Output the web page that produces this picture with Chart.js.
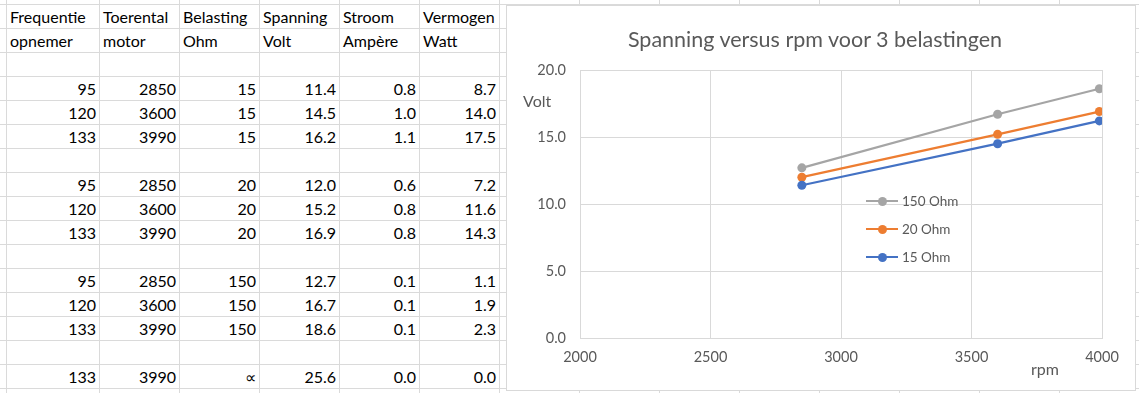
<!DOCTYPE html>
<html lang="nl">
<head>
<meta charset="utf-8">
<title>Spanning versus rpm</title>
<script src="https://cdn.jsdelivr.net/npm/chart.js@4.4.1/dist/chart.umd.min.js"></script>
<style>
  html, body { margin: 0; padding: 0; background: #fff; }
  body { width: 1139px; height: 393px; overflow: hidden; position: relative; font-family: Lato, "Liberation Sans", sans-serif; }
  .vline { position: absolute; top: 0; width: 1px; height: 393px; background: #dadada; }
  .hline { position: absolute; left: 0; width: 1139px; height: 1px; background: #dadada; }
  .cel { position: absolute; height: 24px; line-height: 26px; font-size: 16px; color: #000; white-space: nowrap; }
  .cel.num { text-align: right; }
  #kader { position: absolute; left: 506px; top: 5px; width: 628px; height: 384px; border: 1px solid #d9d9d9; background: #fff; }
  #grafiek { position: absolute; left: 0; top: 0; }
  .label { position: absolute; color: #595959; white-space: nowrap; }
  #titel { left: 0; width: 616px; top: 20px; text-align: center; font-size: 21.5px; }
  #as-y { left: 16px; top: 85px; font-size: 16px; }
  #as-x { left: 524px; top: 353px; font-size: 16px; }
  #legenda { position: absolute; left: 359px; top: 181px; }
  .leg-item { position: relative; height: 28px; line-height: 28px; font-size: 13.5px; color: #595959; padding-left: 36px; }
  .leg-lijn { position: absolute; left: 0; top: 13px; width: 32px; height: 2px; }
  .leg-punt { position: absolute; left: 12px; top: 10px; width: 9px; height: 9px; border-radius: 50%; }
</style>
</head>
<body>

<div id="sheet"></div>

<div id="kader">
  <canvas id="grafiek" width="628" height="384"></canvas>
  <div class="label" id="titel">Spanning versus rpm voor 3 belastingen</div>
  <div class="label" id="as-y">Volt</div>
  <div class="label" id="as-x">rpm</div>
  <div id="legenda"></div>
</div>

<script>
// Meetgegevens
const kopRegel1 = ['Frequentie', 'Toerental', 'Belasting', 'Spanning', 'Stroom', 'Vermogen'];
const kopRegel2 = ['opnemer', 'motor', 'Ohm', 'Volt', 'Ampère', 'Watt'];

const frequentie = [95, 120, 133];
const toerental = [2850, 3600, 3990];
const belastingen = [15, 20, 150];

const spanning15 = [11.4, 14.5, 16.2];
const spanning20 = [12.0, 15.2, 16.9];
const spanning150 = [12.7, 16.7, 18.6];

const stroom15 = [0.8, 1.0, 1.1];
const stroom20 = [0.6, 0.8, 0.8];
const stroom150 = [0.1, 0.1, 0.1];

const vermogen15 = [8.7, 14.0, 17.5];
const vermogen20 = [7.2, 11.6, 14.3];
const vermogen150 = [1.1, 1.9, 2.3];

// onbelast (open klemmen)
const openRegel = [133, 3990, '∝', 25.6, 0.0, 0.0];

// As-instellingen
const rpmTicks = [2000, 2500, 3000, 3500, 4000];
const voltTicks = [0, 5, 10, 15, 20];

const kleuren = ['#4472c4', '#ed7d31', '#a5a5a5'];

// ---------------------------------------------------------
// Werkblad (rasterlijnen + tabel)
// ---------------------------------------------------------
const sheet = document.getElementById('sheet');
const kolX = [6, 99, 179, 259, 339, 419, 499, 579, 659, 739, 819, 899, 979, 1059, 1139];
const rijY = [];
for (let k = 0; k <= 16; k++) rijY.push(4 + 24 * k);

kolX.forEach(x => {
    const d = document.createElement('div');
    d.className = 'vline';
    d.style.left = x + 'px';
    sheet.appendChild(d);
});
rijY.forEach(y => {
    const d = document.createElement('div');
    d.className = 'hline';
    d.style.top = y + 'px';
    sheet.appendChild(d);
});

function zetCel(rij, kol, tekst, rechts) {
    const d = document.createElement('div');
    d.className = 'cel' + (rechts ? ' num' : '');
    d.textContent = tekst;
    d.style.top = rijY[rij] + 'px';
    if (rechts) {
        d.style.left = kolX[kol] + 'px';
        d.style.width = (kolX[kol + 1] - kolX[kol] - 3) + 'px';
    } else {
        d.style.left = (kolX[kol] + 4) + 'px';
    }
    sheet.appendChild(d);
}

kopRegel1.forEach((t, k) => zetCel(0, k, t, false));
kopRegel2.forEach((t, k) => zetCel(1, k, t, false));

const spanningen = [spanning15, spanning20, spanning150];
const stromen = [stroom15, stroom20, stroom150];
const vermogens = [vermogen15, vermogen20, vermogen150];

belastingen.forEach((ohm, g) => {
    for (let i = 0; i < 3; i++) {
        const rij = 3 + 4 * g + i;
        const waarden = [
            frequentie[i],
            toerental[i],
            ohm,
            spanningen[g][i].toFixed(1),
            stromen[g][i].toFixed(1),
            vermogens[g][i].toFixed(1)
        ];
        waarden.forEach((w, k) => zetCel(rij, k, w, true));
    }
});

openRegel.forEach((w, k) => {
    const tekst = typeof w === 'number' && k >= 3 ? w.toFixed(1) : w;
    zetCel(15, k, tekst, true);
});

// ---------------------------------------------------------
// Grafiek
// ---------------------------------------------------------
const datasets = belastingen.map((ohm, g) => ({
    label: ohm + ' Ohm',
    data: toerental.map((rpm, i) => ({ x: rpm, y: spanningen[g][i] })),
    borderColor: kleuren[g],
    backgroundColor: kleuren[g],
    borderWidth: 2.25,
    pointRadius: 4.5,
    pointBorderWidth: 0,
    showLine: true,
    tension: 0
}));

const tekstKleur = '#595959';
const rasterKleur = '#d9d9d9';
const fontFam = 'Lato, "Liberation Sans", sans-serif';

const ctx = document.getElementById('grafiek').getContext('2d');
const grafiek = new Chart(ctx, {
    type: 'scatter',
    data: { datasets: datasets },
    options: {
        responsive: false,
        animation: false,
        layout: { padding: { top: 64, right: 33, left: 0, bottom: 0 } },
        plugins: {
            legend: { display: false },
            title: { display: false },
            tooltip: { enabled: false }
        },
        scales: {
            x: {
                type: 'linear',
                min: rpmTicks[0],
                max: rpmTicks[rpmTicks.length - 1],
                afterBuildTicks: axis => { axis.ticks = rpmTicks.map(v => ({ value: v })); },
                afterFit: axis => { axis.height = 52; },
                grid: { color: rasterKleur, drawTicks: false },
                border: { color: rasterKleur },
                ticks: {
                    color: tekstKleur,
                    font: { family: fontFam, size: 14.5 },
                    padding: 11,
                    maxRotation: 0,
                    callback: v => String(v)
                }
            },
            y: {
                type: 'linear',
                min: voltTicks[0],
                max: voltTicks[voltTicks.length - 1],
                afterBuildTicks: axis => { axis.ticks = voltTicks.map(v => ({ value: v })); },
                afterFit: axis => { axis.width = 73; },
                grid: { color: rasterKleur, drawTicks: false },
                border: { color: rasterKleur },
                ticks: {
                    color: tekstKleur,
                    font: { family: fontFam, size: 14.5 },
                    padding: 14,
                    callback: v => Number(v).toFixed(1)
                }
            }
        }
    }
});

// Legenda (omgekeerde volgorde, zoals in Excel)
const legenda = document.getElementById('legenda');
grafiek.data.datasets.slice().reverse().forEach(ds => {
    const item = document.createElement('div');
    item.className = 'leg-item';
    item.innerHTML = `<span class="leg-lijn" style="background:${ds.borderColor}"></span>` +
                     `<span class="leg-punt" style="background:${ds.borderColor}"></span>${ds.label}`;
    legenda.appendChild(item);
});
</script>
</body>
</html>
